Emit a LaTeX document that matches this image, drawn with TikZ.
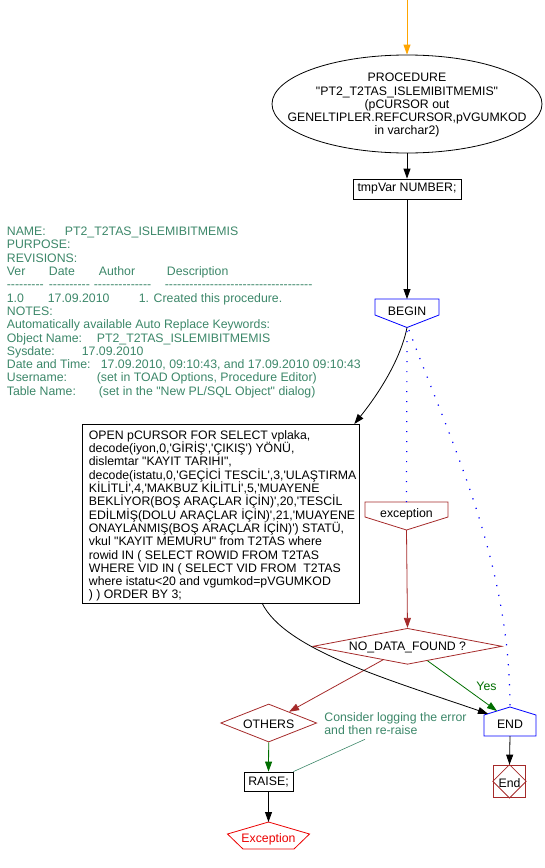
\documentclass[tikz,border=0pt]{standalone}
\usepackage{fontspec}
\setmainfont{Liberation Sans}[Ligatures=TeXOff]
\usetikzlibrary{arrows.meta,shapes.geometric,calc}
\definecolor{cbrown}{RGB}{165,42,42}
\definecolor{cgreen}{RGB}{0,110,0}
\definecolor{cteal}{RGB}{60,135,105}
\definecolor{corange}{RGB}{255,165,0}
\definecolor{cblue}{RGB}{0,0,255}
\definecolor{cred}{RGB}{235,0,0}
\begin{document}
\begin{tikzpicture}[x=1pt,y=-1pt,
  font=\fontsize{12.3}{13.3}\selectfont,
  line width=0.8pt,
  arr/.style={-{Triangle[length=10pt,width=7pt]}},
  lbl/.style={inner sep=0pt},
  dotline/.style={cblue,line width=1.2pt,dash pattern=on 1.2pt off 8.8pt},
  box/.style={draw,inner sep=0pt}]
\useasboundingbox (0,0) rectangle (545,868);

% start
\coordinate (start) at (407,0);
\node[ellipse,draw,minimum width=270pt,minimum height=98pt,inner sep=0pt] (proc) at (407,104) {};
\node[lbl,align=center] (proctxt) at (407,105.3) {PROCEDURE\\"PT2\_T2TAS\_ISLEMIBITMEMIS"\\(pCURSOR out\\GENELTIPLER.REFCURSOR,pVGUMKOD\\in varchar2)};
\draw[corange,arr] (start) -- (proc.north);

% tmpVar
\node[box,minimum width=108pt,minimum height=20pt] (tmp) at (407,189) {tmpVar NUMBER;};
\draw[arr] (proc.south) -- (tmp.north);

% BEGIN
\coordinate (begintop) at (407,299);
\coordinate (begintip) at (407,327.5);
\draw[cblue] (375,299) -- (439,299) -- (439,315) -- (begintip) -- (375,315) -- cycle;
\node[lbl,anchor=base] (begin) at (407,315.3) {BEGIN};
\draw[arr] (tmp.south) -- (begintop);

% comment block
\node[lbl,anchor=north west,align=left,text=cteal] (cmt) at (6.5,226.7) {%
\makebox[58pt][l]{NAME:}PT2\_T2TAS\_ISLEMIBITMEMIS\\
PURPOSE:\\
REVISIONS:\\
\makebox[42pt][l]{Ver}\makebox[50pt][l]{Date}\makebox[68pt][l]{Author}Description\\
\makebox[42pt][l]{---------}\makebox[45pt][l]{----------}\makebox[71pt][l]{--------------}------------------------------------\\
\makebox[41pt][l]{1.0}\makebox[91pt][l]{17.09.2010}1. Created this procedure.\\
NOTES:\\
Automatically available Auto Replace Keywords:\\
\makebox[90pt][l]{Object Name:}PT2\_T2TAS\_ISLEMIBITMEMIS\\
\makebox[75pt][l]{Sysdate:}17.09.2010\\
\makebox[94pt][l]{Date and Time:}17.09.2010, 09:10:43, and 17.09.2010 09:10:43\\
\makebox[90pt][l]{Username:}(set in TOAD Options, Procedure Editor)\\
\makebox[92pt][l]{Table Name:}(set in the "New PL/SQL Object" dialog)};

% SQL box
\node[box,minimum width=277pt,minimum height=179pt,anchor=north west] (sql) at (82,424) {};
\node[lbl,anchor=north west,align=left] (sqltxt) at (88.5,430) {%
OPEN pCURSOR FOR SELECT vplaka,\\
decode(iyon,0,'GİRİŞ','ÇIKIŞ') YÖNÜ,\\
dislemtar "KAYIT TARIHI",\\
decode(istatu,0,'GEÇİCİ TESCİL',3,'ULAŞTIRMA\\
KİLİTLİ',4,'MAKBUZ KİLİTLİ',5,'MUAYENE\\
BEKLİYOR(BOŞ ARAÇLAR İÇİN)',20,'TESCİL\\
EDİLMİŞ(DOLU ARAÇLAR İÇİN)',21,'MUAYENE\\
ONAYLANMIŞ(BOŞ ARAÇLAR İÇİN)') STATÜ,\\
vkul "KAYIT MEMURU" from T2TAS where\\
rowid IN ( SELECT ROWID FROM T2TAS\\
WHERE VID IN ( SELECT VID FROM\ \ T2TAS\\
where istatu<20 and vgumkod=pVGUMKOD\\
) ) ORDER BY 3;};
\draw[arr] (begintip) .. controls (401,358) and (380,392) .. ($(sql.north east)+(-5.5,0)$);

% exception
\coordinate (exctop) at (406.5,502);
\coordinate (exctip) at (406.5,530);
\draw[cbrown] (365,502) -- (448,502) -- (448,517) -- (exctip) -- (365,517) -- cycle;
\node[lbl,anchor=base] (exc) at (406.5,517.7) {exception};
\draw[dotline] (407,331) -- (exctop);

% NO_DATA_FOUND
\node[diamond,draw=cbrown,minimum width=189pt,minimum height=36pt,inner sep=0pt] (nd) at (407.5,646.3) {};
\node[lbl,anchor=base] (ndt) at (407.5,650) {NO\_DATA\_FOUND ?};
\draw[cbrown,arr] (exctip) -- (nd.north);

% OTHERS
\node[diamond,draw=cbrown,minimum width=96pt,minimum height=38pt,inner sep=0pt] (oth) at (268.7,723) {};
\node[lbl,anchor=base] (otht) at (268.7,728.3) {OTHERS};
\draw[cbrown,arr] (nd) -- (oth);

% END
\coordinate (endpeak) at (510,707);
\coordinate (endbot) at (510,736);
\draw[cblue] (484,736) -- (484,715) -- (endpeak) -- (536,715) -- (536,736) -- cycle;
\node[lbl,anchor=base] (endt) at (510,728.3) {END};
\coordinate (endA) at (497,711);
\coordinate (endB) at (488,713.8);
\draw[dotline] (409,330) .. controls (450,440) and (510,560) .. (endpeak);
\draw[cgreen,arr] (nd) -- (endA);
\node[lbl,anchor=base,text=cgreen] (yes) at (486.5,690) {Yes};
\coordinate (sqlout) at (262,603);
\draw[arr] (sqlout) .. controls (285,650) and (390,680) .. (endB);

% End box
\node[draw=cbrown,minimum width=32.5pt,minimum height=32.5pt,inner sep=0pt] (endb) at (509.5,781.3) {};
\draw[cbrown] (endb.north) -- (endb.east) -- (endb.south) -- (endb.west) -- cycle;
\node[lbl,anchor=base] (endbt) at (509.5,787) {End};
\draw[arr] (endbot) -- (endb.north);

% RAISE
\node[box,minimum width=49pt,minimum height=19pt] (raise) at (268.5,781.5) {RAISE;};
\draw[cgreen,arr] (oth.south) -- (raise.north);

% Exception terminal
\coordinate (xtop) at (268.5,822);
\draw[cred] (xtop) -- (309.5,834) -- (294,849) -- (243,849) -- (227.5,834) -- cycle;
\node[lbl,anchor=base,text=cred] (xt) at (268.5,842.3) {Exception};
\draw[arr] (raise.south) -- (xtop);

% note
\node[lbl,anchor=north west,align=left,text=cteal,font=\fontsize{12.3}{12.7}\selectfont] (note) at (324,712.3) {Consider logging the error\\and then re-raise};
\coordinate (notept) at (365,739.3);
\draw[cteal,line width=0.6pt] (notept) -- (raise.north east);
\end{tikzpicture}
\end{document}
